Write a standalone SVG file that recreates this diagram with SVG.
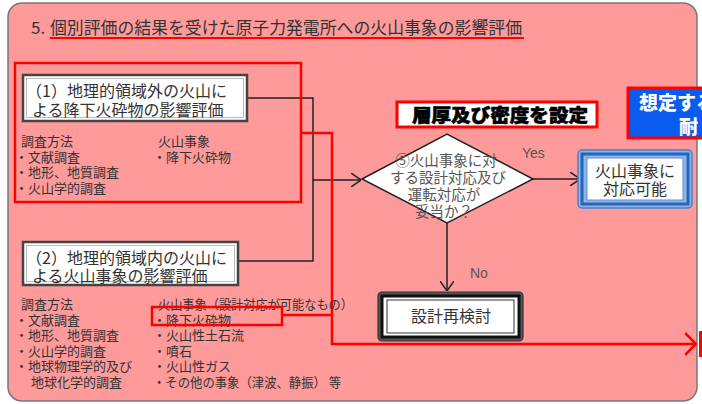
<svg xmlns="http://www.w3.org/2000/svg" width="702" height="404" viewBox="0 0 702 404">
<style>
.jp{font-family:"Noto Sans CJK JP","Noto Sans",sans-serif;fill:#333;}
.t16{font-size:16px;}
.t13{font-size:13px;}
.dia{font-size:14.5px;fill:#555;}
.lat{font-family:"Liberation Sans",Arial,sans-serif;font-size:14px;fill:#555;}
.conn{fill:none;stroke:#222;stroke-width:1.5;}
.red{fill:none;stroke:#ff0000;stroke-width:2.5;}
</style>
<defs>
<marker id="ah" viewBox="0 0 10 14" refX="10" refY="7" markerWidth="10" markerHeight="14" markerUnits="userSpaceOnUse" orient="auto">
<path d="M0,0 L10,7 L0,14" fill="none" stroke="#222" stroke-width="1.5"/>
</marker>
<marker id="ahr" viewBox="0 0 12 24" refX="11" refY="12" markerWidth="12" markerHeight="24" markerUnits="userSpaceOnUse" orient="auto">
<path d="M0,1 L11,12 L0,23" fill="none" stroke="#ff0000" stroke-width="2.5"/>
</marker>
</defs>

<g id="panel">
<rect x="8" y="3" width="689" height="398" rx="14" fill="#fe9a9a" stroke="#777" stroke-width="1.5"/>
</g>

<g id="title">
<text class="jp" x="31" y="34" font-size="17">5.</text>
<text class="jp" x="50" y="34" font-size="17" textLength="472" lengthAdjust="spacingAndGlyphs">個別評価の結果を受けた原子力発電所への火山事象の影響評価</text>
<line x1="50" y1="38" x2="524" y2="38" stroke="#ff0000" stroke-width="2"/>
</g>

<g id="connectors">
<path class="conn" d="M247,98 H313 V261 H238"/>
<path class="conn" d="M313,180 H361" marker-end="url(#ah)"/>
<path class="conn" d="M533,179 H580" marker-end="url(#ah)"/>
<path class="conn" d="M447,222 V291" marker-end="url(#ah)"/>
<path class="red" d="M301,133 H332 V344 H696" marker-end="url(#ahr)"/>
<path class="red" d="M282,315 H332"/>
<rect x="699" y="331" width="3" height="26" fill="#ff0000"/>
</g>

<g id="frame1">
<rect class="red" x="15" y="63" width="286" height="139"/>
</g>

<g id="box1">
<rect x="23" y="75" width="224" height="46" fill="#fff" stroke="#444" stroke-width="2.5"/>
<rect x="26.5" y="78.5" width="217" height="39" fill="none" stroke="#aaa" stroke-width="0.8"/>
<text class="jp t16" x="26" y="97">（1）地理的領域外の火山に</text>
<text class="jp t16" x="32" y="116">よる降下火砕物の影響評価</text>
</g>

<g id="methods1">
<text class="jp t13" x="21" y="146">調査方法</text>
<text class="jp t13" x="15" y="161.5">・文献調査</text>
<text class="jp t13" x="15" y="177">・地形、地質調査</text>
<text class="jp t13" x="15" y="192.5">・火山学的調査</text>
<text class="jp t13" x="158" y="146">火山事象</text>
<text class="jp t13" x="153" y="161.5">・降下火砕物</text>
</g>

<g id="box2">
<rect x="23" y="242" width="215" height="43" fill="#fff" stroke="#444" stroke-width="2.5"/>
<rect x="26.5" y="245.5" width="208" height="36" fill="none" stroke="#aaa" stroke-width="0.8"/>
<text class="jp t16" x="26" y="264">（2）地理的領域内の火山に</text>
<text class="jp t16" x="32" y="282">よる火山事象の影響評価</text>
</g>

<g id="methods2">
<text class="jp t13" x="21" y="309">調査方法</text>
<text class="jp t13" x="15" y="324.5">・文献調査</text>
<text class="jp t13" x="15" y="340">・地形、地質調査</text>
<text class="jp t13" x="15" y="355.5">・火山学的調査</text>
<text class="jp t13" x="15" y="371">・地球物理学的及び</text>
<text class="jp t13" x="31" y="386.5">地球化学的調査</text>
<text class="jp t13" x="158" y="309" textLength="195" lengthAdjust="spacingAndGlyphs">火山事象（設計対応が可能なもの）</text>
<text class="jp t13" x="153" y="324.5">・降下火砕物</text>
<text class="jp t13" x="153" y="340">・火山性土石流</text>
<text class="jp t13" x="153" y="355.5">・噴石</text>
<text class="jp t13" x="153" y="371">・火山性ガス</text>
<text class="jp t13" x="153" y="386.5" textLength="188" lengthAdjust="spacingAndGlyphs">・その他の事象（津波、静振） 等</text>
</g>

<g id="frame-ash">
<rect class="red" x="152" y="307" width="130" height="18"/>
</g>

<g id="label-thickness">
<rect x="397" y="102" width="200" height="25" fill="#fff" stroke="#ff0000" stroke-width="3"/>
<text class="jp" x="412" y="122" font-size="18" font-weight="900" fill="#000" stroke="#000" stroke-width="0.6" textLength="176" lengthAdjust="spacingAndGlyphs" style="fill:#000">層厚及び密度を設定</text>
</g>

<g id="label-blue">
<rect x="628" y="88" width="80" height="50" fill="#0a5cf0" stroke="#ff0000" stroke-width="3"/>
<text class="jp" x="639" y="110" font-size="19" font-weight="900" style="fill:#fff">想定する</text>
<text class="jp" x="679" y="134" font-size="19" font-weight="900" style="fill:#fff">耐</text>
</g>

<g id="decision">
<polygon points="362,179 447,134 533,179 447,223" fill="#fff" stroke="#222" stroke-width="1.5"/>
<text class="jp dia" x="446" y="166" text-anchor="middle">⑤火山事象に対</text>
<text class="jp dia" x="448" y="183" text-anchor="middle">する設計対応及び</text>
<text class="jp dia" x="444" y="200" text-anchor="middle">運転対応が</text>
<text class="jp dia" x="444" y="217" text-anchor="middle">妥当か？</text>
<text class="lat" x="522" y="158">Yes</text>
<text class="lat" x="470" y="278">No</text>
</g>

<g id="ok">
<rect x="578" y="150" width="114" height="58" rx="4" fill="#8fb5e8" stroke="#4a7fcc" stroke-width="1.5"/>
<rect x="582" y="154" width="106" height="50" fill="none" stroke="#2466b8" stroke-width="3"/>
<rect x="587" y="158" width="96" height="42" fill="#fff" stroke="#5c8dd0" stroke-width="1"/>
<text class="jp t16" x="635" y="177" text-anchor="middle">火山事象に</text>
<text class="jp t16" x="635" y="195" text-anchor="middle">対応可能</text>
</g>

<g id="redesign">
<rect x="378" y="292" width="145" height="49" rx="4" fill="#555" stroke="#333" stroke-width="1.2"/>
<rect x="382" y="296" width="137" height="41" fill="#fff" stroke="#111" stroke-width="3"/>
<rect x="387" y="300" width="127" height="33" fill="#fff" stroke="#333" stroke-width="1"/>
<text class="jp t16" x="451" y="322" text-anchor="middle">設計再検討</text>
</g>
</svg>
